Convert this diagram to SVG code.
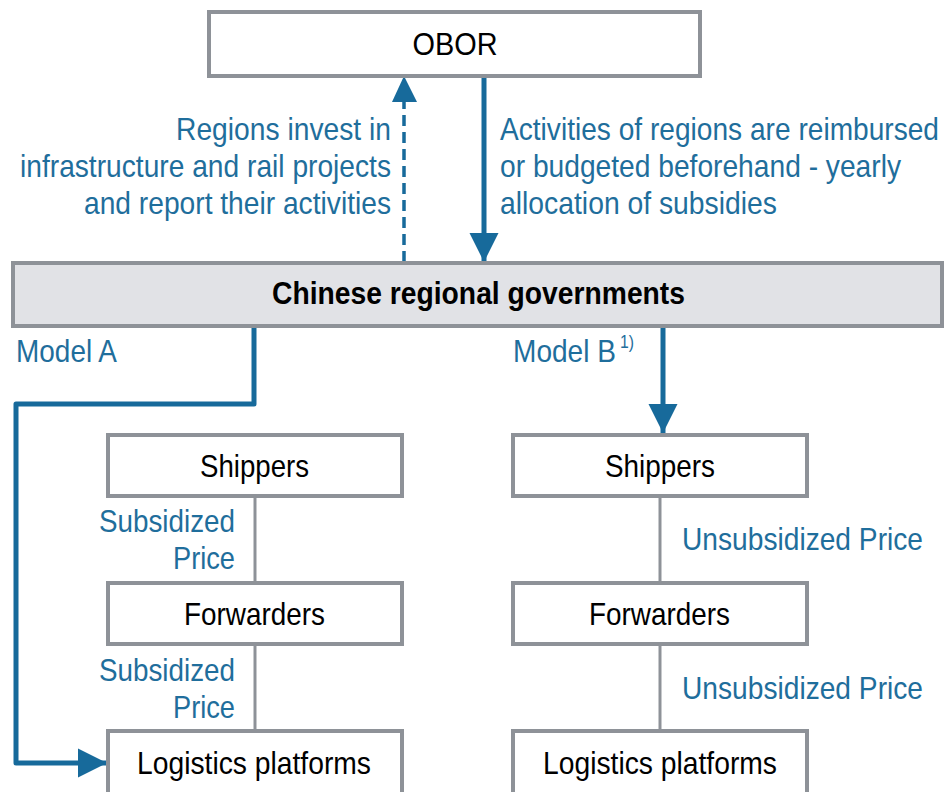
<svg xmlns="http://www.w3.org/2000/svg" width="944" height="792" viewBox="0 0 944 792">
<defs>
<style>
.box{fill:#ffffff;stroke:#8e9298;stroke-width:4}
.gov{fill:#e1e2e6;stroke:#8e9298;stroke-width:4}
.t{font-family:"Liberation Sans",Arial,sans-serif;font-size:32px;fill:#000}
.b{font-weight:bold}
.lbl{font-family:"Liberation Sans",Arial,sans-serif;font-size:32px;fill:#1f6e9c}
.sup{font-family:"Liberation Sans",Arial,sans-serif;font-size:19px;fill:#1f6e9c}
.blue{fill:none;stroke:#176a9b;stroke-width:5}
.dash{fill:none;stroke:#176a9b;stroke-width:3.5;stroke-dasharray:11 6}
.gray{fill:none;stroke:#8e9298;stroke-width:3}
</style>
<marker id="ah" viewBox="0 0 10 10" refX="10" refY="5" markerUnits="userSpaceOnUse" markerWidth="29" markerHeight="30" orient="auto">
<path d="M0,0 L10,5 L0,10 Z" fill="#176a9b"/>
</marker>
</defs>
<g id="connectors">
<line class="dash" x1="404" y1="262" x2="404" y2="100"/>
<path d="M392,102 L404,76 L417,102 Z" fill="#176a9b"/>
<line class="blue" x1="484" y1="78" x2="484" y2="262" marker-end="url(#ah)"/>
<polyline class="blue" points="254,327 254,404 16,404 16,763 107,763" stroke-linejoin="round" marker-end="url(#ah)"/>
<line class="blue" x1="663" y1="327" x2="663" y2="433" marker-end="url(#ah)"/>
<line class="gray" x1="255" y1="497" x2="255" y2="582"/>
<line class="gray" x1="255" y1="646" x2="255" y2="730"/>
<line class="gray" x1="660" y1="497" x2="660" y2="582"/>
<line class="gray" x1="660" y1="646" x2="660" y2="730"/>
</g>
<g id="obor">
<rect class="box" x="209" y="12" width="491" height="64"/>
<text class="t" x="455" y="55" text-anchor="middle" textLength="85" lengthAdjust="spacingAndGlyphs">OBOR</text>
</g>
<g id="label-left">
<text class="lbl" x="391" y="140" text-anchor="end" textLength="215" lengthAdjust="spacingAndGlyphs">Regions invest in</text>
<text class="lbl" x="391" y="177" text-anchor="end" textLength="371" lengthAdjust="spacingAndGlyphs">infrastructure and rail projects</text>
<text class="lbl" x="391" y="214" text-anchor="end" textLength="307" lengthAdjust="spacingAndGlyphs">and report their activities</text>
</g>
<g id="label-right">
<text class="lbl" x="500" y="140" textLength="439" lengthAdjust="spacingAndGlyphs">Activities of regions are reimbursed</text>
<text class="lbl" x="500" y="177" textLength="401" lengthAdjust="spacingAndGlyphs">or budgeted beforehand - yearly</text>
<text class="lbl" x="500" y="214" textLength="277" lengthAdjust="spacingAndGlyphs">allocation of subsidies</text>
</g>
<g id="gov">
<rect class="gov" x="13" y="263" width="929" height="63"/>
<text class="t b" x="272" y="304" textLength="413" lengthAdjust="spacingAndGlyphs">Chinese regional governments</text>
</g>
<g id="model-a">
<text class="lbl" x="16" y="362" textLength="101" lengthAdjust="spacingAndGlyphs">Model A</text>
</g>
<g id="model-b">
<text class="lbl" x="513" y="362" textLength="103" lengthAdjust="spacingAndGlyphs">Model B</text>
<text class="sup" x="620" y="348" textLength="14" lengthAdjust="spacingAndGlyphs">1)</text>
</g>
<g id="a-shippers">
<rect class="box" x="108" y="435" width="294" height="61"/>
<text class="t" x="200" y="477" textLength="109" lengthAdjust="spacingAndGlyphs">Shippers</text>
</g>
<g id="a-forwarders">
<rect class="box" x="108" y="583" width="294" height="61"/>
<text class="t" x="184" y="625" textLength="141" lengthAdjust="spacingAndGlyphs">Forwarders</text>
</g>
<g id="a-logistics">
<rect class="box" x="108" y="731" width="294" height="70"/>
<text class="t" x="137" y="774" textLength="234" lengthAdjust="spacingAndGlyphs">Logistics platforms</text>
</g>
<g id="b-shippers">
<rect class="box" x="513" y="435" width="294" height="61"/>
<text class="t" x="605" y="477" textLength="110" lengthAdjust="spacingAndGlyphs">Shippers</text>
</g>
<g id="b-forwarders">
<rect class="box" x="513" y="583" width="294" height="61"/>
<text class="t" x="589" y="625" textLength="141" lengthAdjust="spacingAndGlyphs">Forwarders</text>
</g>
<g id="b-logistics">
<rect class="box" x="513" y="731" width="294" height="70"/>
<text class="t" x="543" y="774" textLength="234" lengthAdjust="spacingAndGlyphs">Logistics platforms</text>
</g>
<g id="price-labels">
<text class="lbl" x="99" y="532" textLength="136" lengthAdjust="spacingAndGlyphs">Subsidized</text>
<text class="lbl" x="173" y="569" textLength="62" lengthAdjust="spacingAndGlyphs">Price</text>
<text class="lbl" x="99" y="681" textLength="136" lengthAdjust="spacingAndGlyphs">Subsidized</text>
<text class="lbl" x="173" y="718" textLength="62" lengthAdjust="spacingAndGlyphs">Price</text>
<text class="lbl" x="682" y="550" textLength="241" lengthAdjust="spacingAndGlyphs">Unsubsidized Price</text>
<text class="lbl" x="682" y="699" textLength="241" lengthAdjust="spacingAndGlyphs">Unsubsidized Price</text>
</g>
</svg>
